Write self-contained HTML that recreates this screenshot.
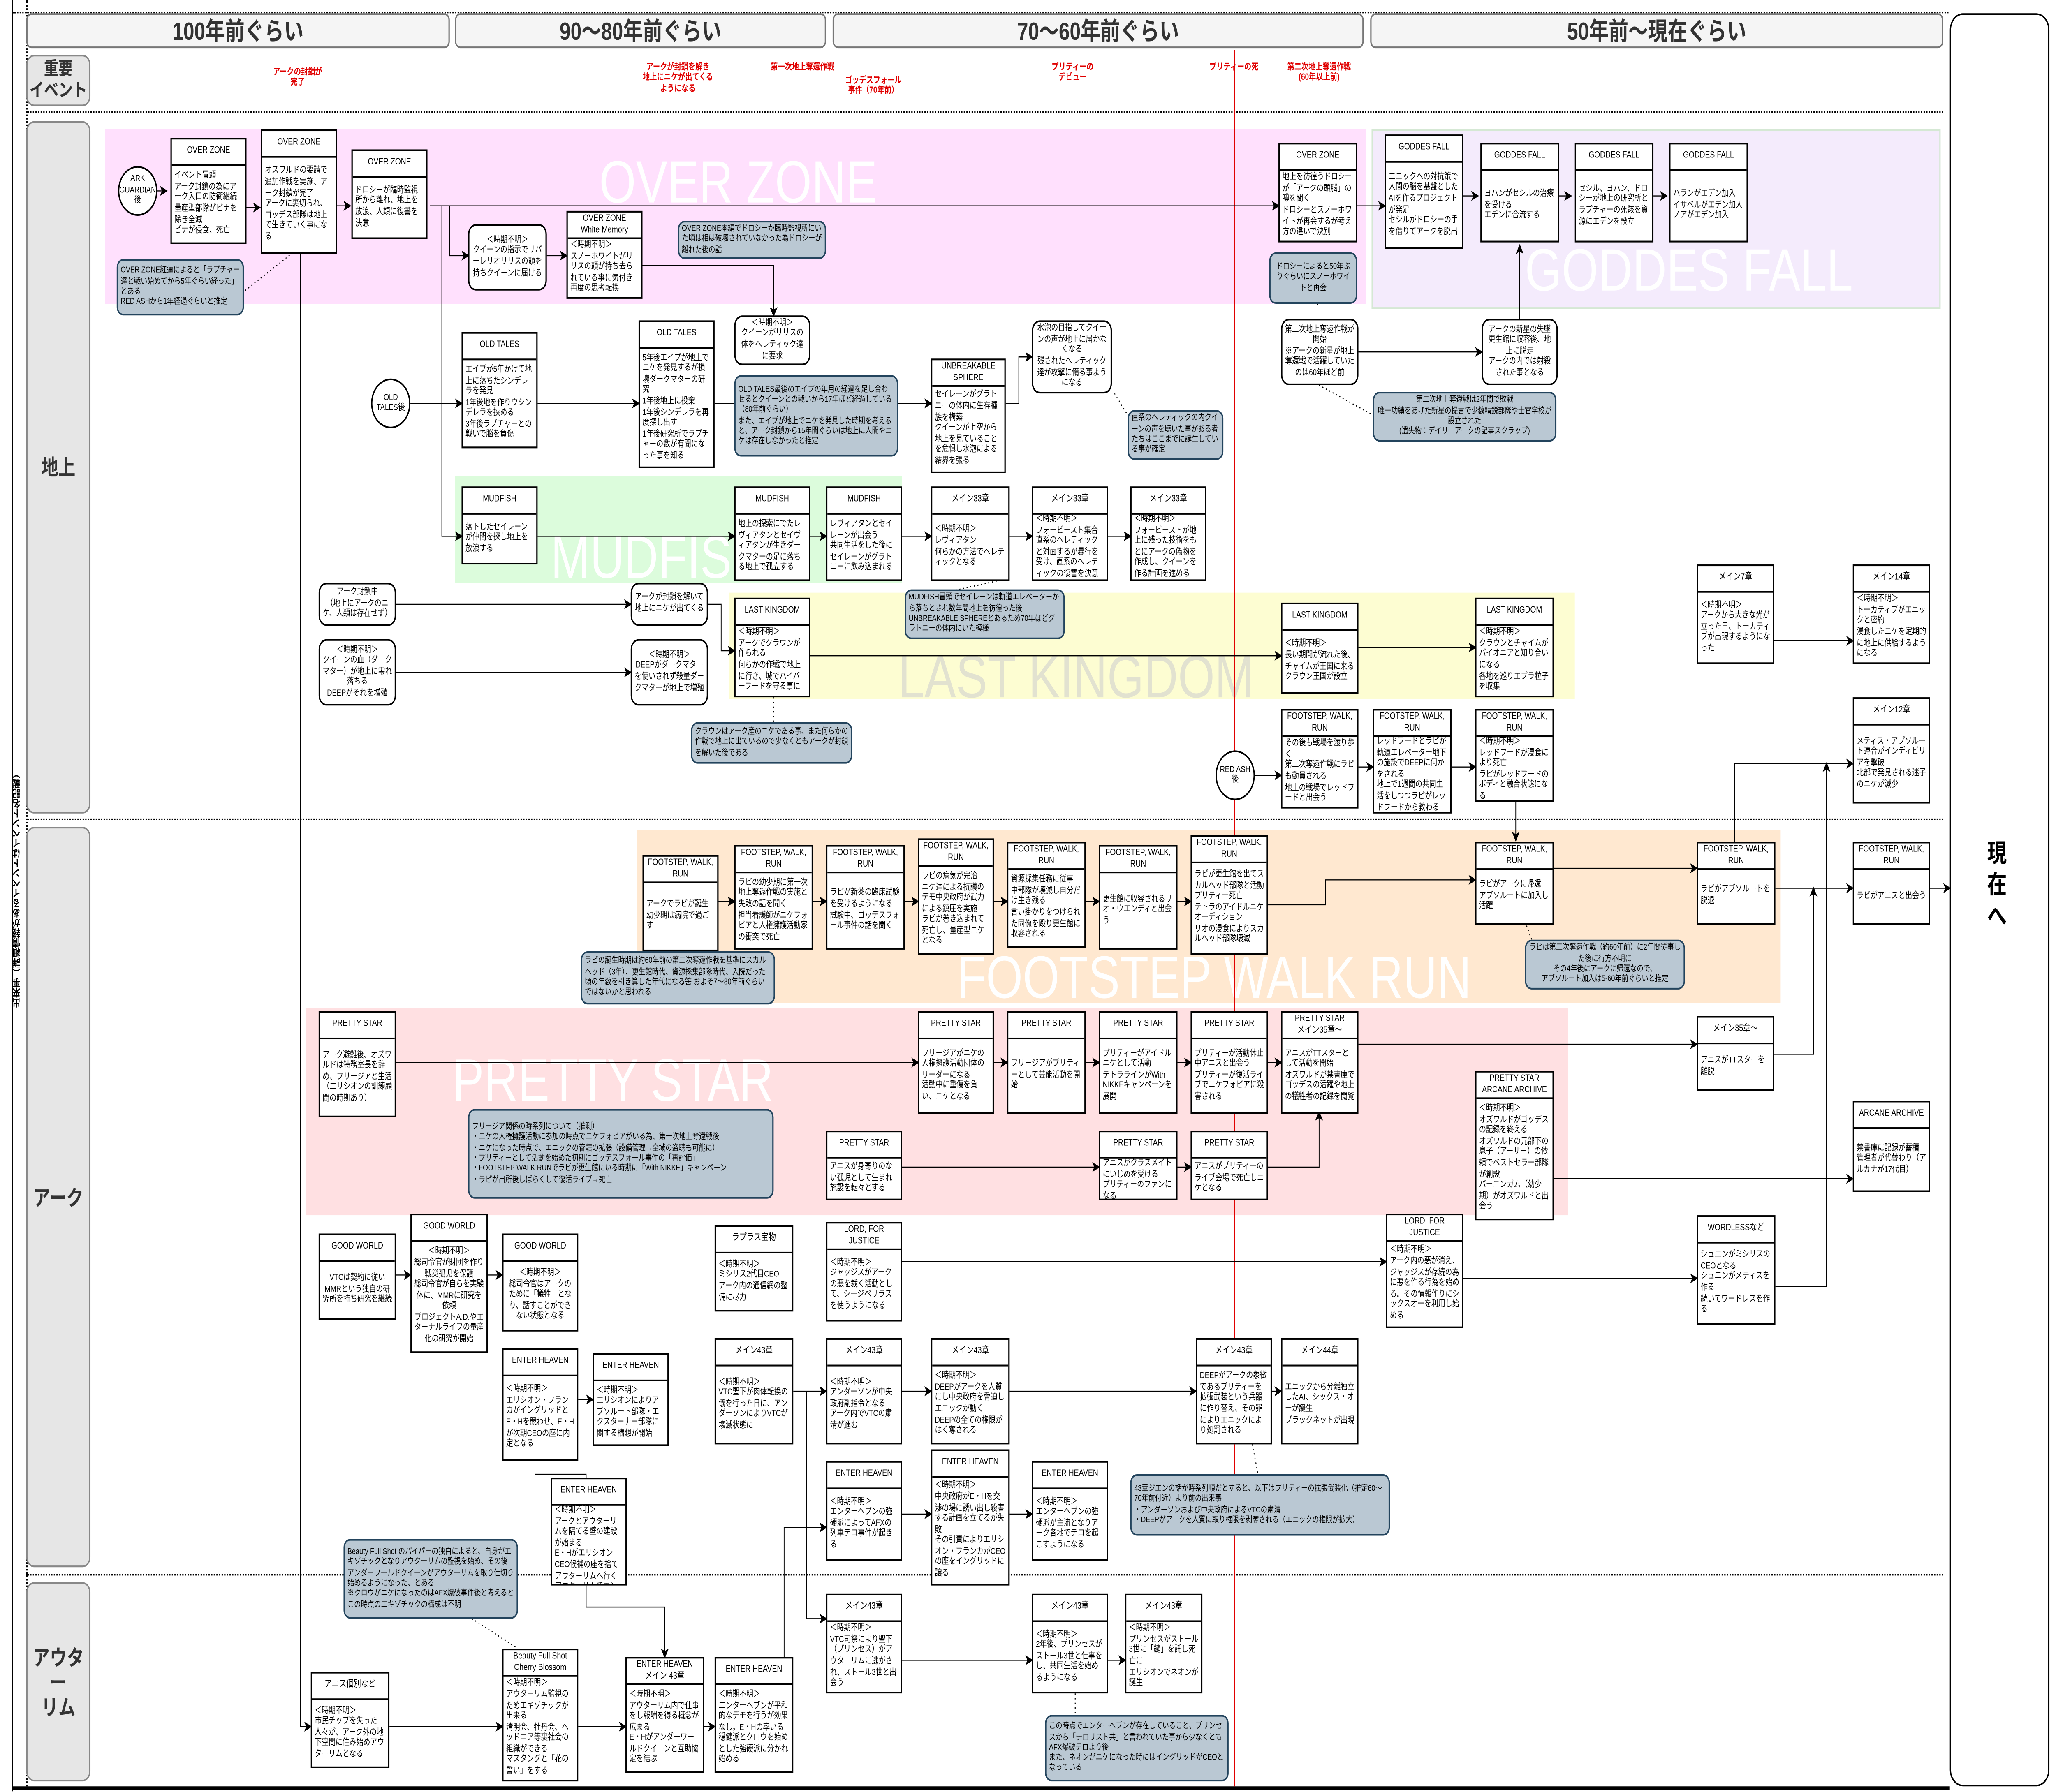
<!DOCTYPE html>
<html><head><meta charset="utf-8">
<style>
html,body{margin:0;padding:0;background:#fff;overflow:hidden;}
body{width:100vw;height:100vh;overflow:hidden;position:relative;}
#w{position:absolute;left:0;top:0;width:1568px;height:1079px;overflow:hidden;transform:scale(4.0383);transform-origin:0 0;font-family:"Liberation Sans","Noto Sans CJK JP",sans-serif;color:#000;}
.a{position:absolute;box-sizing:border-box;}
.hd{position:absolute;box-sizing:border-box;background:#f5f5f5;border:0.8px solid #777;border-radius:4px;font-weight:bold;font-size:15px;color:#333;display:flex;align-items:center;justify-content:center;}
.lb{position:absolute;box-sizing:border-box;background:#e6e6e6;border:0.8px solid #888;border-radius:6px;font-weight:bold;font-size:13px;color:#333;display:flex;align-items:center;justify-content:center;text-align:center;line-height:15px;}
.rg{position:absolute;}
.wm{position:absolute;color:#fff;font-size:36px;white-space:nowrap;line-height:36px;font-family:"Liberation Sans",sans-serif;}
.n{position:absolute;box-sizing:border-box;background:#fff;border:0.7px solid #000;font-size:5.3px;line-height:6.6px;overflow:hidden;display:flex;flex-direction:column;}
.n .h{height:15px;flex:none;border-bottom:0.7px solid #000;display:flex;align-items:center;justify-content:center;text-align:center;font-size:5.6px;line-height:6.4px;}
.n .b{flex:1;display:flex;flex-direction:column;justify-content:center;padding:0 2px;}
.n .b.c{text-align:center;}
.r{position:absolute;box-sizing:border-box;background:#fff;border:0.7px solid #000;border-radius:6px;font-size:5.3px;line-height:6.6px;display:flex;align-items:center;justify-content:center;text-align:center;padding:1px 2px;overflow:hidden;}
.nt{position:absolute;box-sizing:border-box;background:#bac8d3;border:0.7px solid #23445d;border-radius:5px;font-size:5.1px;line-height:6.3px;display:flex;flex-direction:column;justify-content:center;padding:1px 2px;overflow:hidden;}
.e{position:absolute;box-sizing:border-box;background:#fff;border:0.7px solid #000;border-radius:50%;font-size:5.3px;line-height:6.4px;display:flex;align-items:center;justify-content:center;text-align:center;}
.rd{position:absolute;color:#e00000;font-weight:bold;font-size:5.4px;line-height:6.4px;text-align:center;white-space:nowrap;transform:translateX(-50%);}
</style></head><body><div id="w">

<div class="a" style="left:9px;top:0;width:1.2px;height:1079px;background:#000"></div>
<div class="a" style="left:9px;top:1076px;width:1478px;height:2px;background:#000"></div>
<div class="a" style="left:19.5px;top:0;width:0;height:1076px;border-left:0.8px dotted #000"></div>
<div class="a" style="left:10px;top:7px;width:1476px;border-top:0.8px dotted #000"></div>
<div class="a" style="left:20px;top:67px;width:1462px;border-top:1px dotted #000"></div>
<div class="a" style="left:20px;top:493px;width:1462px;border-top:1px dotted #000"></div>
<div class="a" style="left:20px;top:948px;width:1462px;border-top:1px dotted #000"></div>
<div class="a" style="left:1487px;top:8px;width:76px;height:1068px;border:0.8px solid #000;border-radius:10px;background:#fff;"></div>
<div class="a" style="left:1513px;top:505px;width:20px;font-size:15px;line-height:19px;font-weight:bold;text-align:center;">現<br>在<br>へ</div>
<div class="a" style="left:9px;top:370px;width:10px;height:330px;font-size:6px;line-height:8px;writing-mode:vertical-rl;transform:rotate(180deg);display:flex;align-items:center;justify-content:center;font-weight:bold;">出来事（詳細情報があるイベントはイベント名記載）</div>

<div class="hd" style="left:20px;top:8px;width:323px;height:21px;">100年前ぐらい</div>
<div class="hd" style="left:347px;top:8px;width:283px;height:21px;">90〜80年前ぐらい</div>
<div class="hd" style="left:635px;top:8px;width:405px;height:21px;">70〜60年前ぐらい</div>
<div class="hd" style="left:1045px;top:8px;width:437px;height:21px;">50年前〜現在ぐらい</div>

<div class="lb" style="left:20px;top:33px;width:49px;height:31px;font-size:11px;line-height:13px;">重要<br>イベント</div>
<div class="lb" style="left:20px;top:73px;width:49px;height:417px;">地上</div>
<div class="lb" style="left:20px;top:498px;width:49px;height:446px;">アーク</div>
<div class="lb" style="left:20px;top:953px;width:49px;height:120px;">アウター<br>リム</div>

<div class="rd" style="left:227px;top:41px;">アークの封鎖が<br>完了</div>
<div class="rd" style="left:517px;top:38px;">アークが封鎖を解き<br>地上にニケが出てくる<br>ようになる</div>
<div class="rd" style="left:612px;top:38px;">第一次地上奪還作戦</div>
<div class="rd" style="left:666px;top:46px;">ゴッデスフォール<br>事件（70年前）</div>
<div class="rd" style="left:818px;top:38px;">プリティーの<br>デビュー</div>
<div class="rd" style="left:941px;top:38px;">プリティーの死</div>
<div class="rd" style="left:1006px;top:38px;">第二次地上奪還作戦<br>(60年以上前)</div>

<div class="rg" style="left:80px;top:78px;width:962px;height:105px;background:#ffe0fd;"></div>
<div class="rg" style="left:1046px;top:78px;width:432px;height:106px;background:#f4ebfc;border:0.6px solid #d5e8d4;"></div>
<div class="rg" style="left:347px;top:287px;width:341px;height:64px;background:#dcfcdc;"></div>
<div class="rg" style="left:556px;top:357px;width:645px;height:64px;background:#fdfdd2;"></div>
<div class="rg" style="left:486px;top:500px;width:872px;height:104px;background:#ffe8d0;"></div>
<div class="rg" style="left:233px;top:607px;width:963px;height:125px;background:#ffe0e2;"></div>

<div class="wm" style="left:457px;top:92px;">OVER ZONE</div>
<div class="wm" style="left:1163px;top:145px;">GODDES FALL</div>
<div class="wm" style="left:420px;top:318px;">MUDFISH</div>
<div class="wm" style="left:685px;top:390px;color:#e2e2d0;">LAST KINGDOM</div>
<div class="wm" style="left:730px;top:571px;">FOOTSTEP WALK RUN</div>
<div class="wm" style="left:345px;top:633px;">PRETTY STAR</div>

<div class="a" style="left:941px;top:30px;width:0.6px;height:1046px;background:#e00000"></div>

<svg class="a" style="left:0;top:0" width="1568" height="1079" viewBox="0 0 1568 1079">
<defs><marker id="m" markerWidth="6" markerHeight="6" refX="5" refY="3" orient="auto" markerUnits="userSpaceOnUse"><path d="M0,0 L6,3 L0,6 L1.5,3 z" fill="#000"/></marker></defs>
<g fill="none" stroke="#000" stroke-width="0.6" marker-end="url(#m)">
<path d="M120,115 H127"/>
<path d="M188,125 H198"/>
<path d="M257,124 H267"/>
<path d="M328,124 H975"/>
<path d="M1035,124 H1056"/>
<path d="M1115,118 H1127"/>
<path d="M1188,118 H1198"/>
<path d="M1261,118 H1271"/>
<path d="M343,124 V154 H357"/>
<path d="M417,154 H432"/>
<path d="M490,160 H590 V190"/>
<path d="M229,153 V1040 H237"/>
<path d="M337,124 V323 H352"/>
<path d="M313,243 H352"/>
<path d="M410,243 H487"/>
<path d="M545,243 H710"/>
<path d="M767,243 H777 V215 H787"/>
<path d="M410,323 H560"/>
<path d="M618,323 H630"/>
<path d="M688,323 H710"/>
<path d="M770,323 H787"/>
<path d="M845,323 H862"/>
<path d="M302,364 H481"/>
<path d="M302,405 H481"/>
<path d="M540,364 H550 V392 H560"/>
<path d="M618,395 H977"/>
<path d="M1036,390 H1125"/>
<path d="M957,467 H977"/>
<path d="M1036,462 H1047"/>
<path d="M1107,462 H1125"/>
<path d="M1156,483 V506"/>
<path d="M1353,386 H1413"/>
<path d="M1036,212 H1130"/>
<path d="M1159,192 V148"/>
<path d="M548,543 H560"/>
<path d="M620,543 H630"/>
<path d="M690,543 H700"/>
<path d="M758,543 H768"/>
<path d="M828,543 H838"/>
<path d="M898,543 H908"/>
<path d="M966,545 H1011 V530 H1125"/>
<path d="M1185,523 H1294"/>
<path d="M1323,507 V460 H1413"/>
<path d="M1354,535 H1413"/>
<path d="M302,640 H700"/>
<path d="M758,640 H768"/>
<path d="M828,640 H838"/>
<path d="M898,640 H908"/>
<path d="M966,640 H977"/>
<path d="M1036,629 H1294"/>
<path d="M688,703 H838"/>
<path d="M898,703 H908"/>
<path d="M966,703 H1006 V670"/>
<path d="M1185,710 H1413"/>
<path d="M1353,635 H1383 V535"/>
<path d="M1354,775 H1393 V460"/>
<path d="M302,768 H313"/>
<path d="M372,768 H383"/>
<path d="M688,760 H1057"/>
<path d="M1116,770 H1294"/>
<path d="M440,843 H452"/>
<path d="M408,880 V888 H447 V895"/>
<path d="M605,838 H630"/>
<path d="M688,838 H710"/>
<path d="M770,838 H912"/>
<path d="M970,838 H977"/>
<path d="M615,838 V975 H630"/>
<path d="M688,912 H710"/>
<path d="M770,912 H787"/>
<path d="M297,1040 H383"/>
<path d="M440,1040 H477"/>
<path d="M537,1040 H545"/>
<path d="M447,955 V968 H507 V998"/>
<path d="M598,998 V920 H630"/>
<path d="M688,1000 H787"/>
<path d="M845,1000 H858"/>
<path d="M1470,535 H1487"/>
</g>
<g fill="none" stroke="#000" stroke-width="0.7" stroke-dasharray="0.8,2">
<path d="M187,175 L222,153"/>
<path d="M1005,180 V185"/>
<path d="M1006,232 L1047,250"/>
<path d="M850,237 L860,250"/>
<path d="M760,350 L720,357"/>
<path d="M590,420 L590,435"/>
<path d="M517,575 L517,585"/>
<path d="M1163,555 L1170,570"/>
<path d="M360,975 L395,993"/>
<path d="M955,870 L960,890"/>
<path d="M820,1020 L820,1033"/>
</g>
</svg>

<div class="e" style="left:90px;top:100px;width:30px;height:30px;">ARK<br>GUARDIAN<br>後</div>
<div class="n" style="left:130px;top:83px;width:58px;height:64px;"><div class="h">OVER ZONE</div><div class="b">イベント冒頭<br>アーク封鎖の為にアーク入口の防衛継続<br>量産型部隊がピナを除き全滅<br>ピナが侵食、死亡</div></div>
<div class="n" style="left:199px;top:78px;width:58px;height:75px;"><div class="h">OVER ZONE</div><div class="b">オスワルドの要請で追加作戦を実施、アーク封鎖が完了<br>アークに裏切られ、ゴッデス部隊は地上で生きていく事になる</div></div>
<div class="n" style="left:268px;top:90px;width:58px;height:54px;"><div class="h">OVER ZONE</div><div class="b">ドロシーが臨時監視所から離れ、地上を放浪、人類に復讐を決意</div></div>
<div class="nt" style="left:89px;top:156px;width:97px;height:34px;">OVER ZONE紅蓮によると「ラプチャー達と戦い始めてから5年ぐらい経った」とある<br>RED ASHから1年経過ぐらいと推定</div>
<div class="r" style="left:357px;top:135px;width:60px;height:40px;">＜時期不明＞<br>クイーンの指示でリバーレリオリリスの頭を持ちクイーンに届ける</div>
<div class="n" style="left:432px;top:127px;width:58px;height:53px;"><div class="h">OVER ZONE<br>White Memory</div><div class="b">＜時期不明＞<br>スノーホワイトがリリスの頭が持ち去られている事に気付き再度の思考転換</div></div>
<div class="nt" style="left:517px;top:133px;width:113px;height:23px;">OVER ZONE本編でドロシーが臨時監視所にいた頃は相は破壊されていなかった為ドロシーが離れた後の話</div>
<div class="r" style="left:560px;top:190px;width:58px;height:30px;">＜時期不明＞<br>クイーンがリリスの体をヘレティック達に要求</div>

<div class="n" style="left:975px;top:86px;width:60px;height:60px;"><div class="h">OVER ZONE</div><div class="b">地上を彷徨うドロシーが「アークの頭脳」の噂を聞く<br>ドロシーとスノーホワイトが再会するが考え方の違いで決別</div></div>
<div class="nt" style="left:968px;top:152px;width:67px;height:31px;text-align:center;">ドロシーによると50年ぶりぐらいにスノーホワイトと再会</div>
<div class="n" style="left:1056px;top:81px;width:60px;height:69px;"><div class="h">GODDES FALL</div><div class="b">エニックへの対抗策で人間の脳を基盤としたAIを作るプロジェクトが発足<br>セシルがドロシーの手を借りてアークを脱出</div></div>
<div class="n" style="left:1129px;top:86px;width:60px;height:60px;"><div class="h">GODDES FALL</div><div class="b">ヨハンがセシルの治療を受ける<br>エデンに合流する</div></div>
<div class="n" style="left:1201px;top:86px;width:60px;height:60px;"><div class="h">GODDES FALL</div><div class="b">セシル、ヨハン、ドロシーが地上の研究所とラプチャーの死骸を資源にエデンを設立</div></div>
<div class="n" style="left:1273px;top:86px;width:60px;height:60px;"><div class="h">GODDES FALL</div><div class="b">ハランがエデン加入<br>イサベルがエデン加入<br>ノアがエデン加入</div></div>
<div class="r" style="left:977px;top:192px;width:59px;height:40px;">第二次地上奪還作戦が開始<br>※アークの新星が地上奪還戦で活躍していたのは60年ほど前</div>
<div class="r" style="left:1130px;top:192px;width:58px;height:40px;">アークの新星の失墜<br>更生館に収容後、地上に脱走<br>アークの内では射殺された事となる</div>
<div class="nt" style="left:1047px;top:236px;width:140px;height:30px;text-align:center;">第二次地上奪還戦は2年間で敗戦<br>唯一功績をあげた新星の提言で少数精鋭部隊や士官学校が設立された<br>(遺失物：デイリーアークの記事スクラップ)</div>

<div class="e" style="left:283px;top:228px;width:30px;height:30px;">OLD<br>TALES後</div>
<div class="n" style="left:352px;top:200px;width:58px;height:70px;"><div class="h">OLD TALES</div><div class="b">エイプが5年かけて地上に落ちたシンデレラを発見<br>1年後地を作りウシンデレラを挟める<br>3年後ラプチャーとの戦いで脳を負傷</div></div>
<div class="n" style="left:487px;top:193px;width:58px;height:89px;"><div class="h">OLD TALES</div><div class="b">5年後エイプが地上でニケを発見するが損壊ダークマターの研究<br>1年後地上に投棄<br>1年後シンデレラを再度探し出す<br>1年後研究所でラプチャーの数が有聞になった事を知る</div></div>
<div class="nt" style="left:560px;top:226px;width:125px;height:49px;">OLD TALES最後のエイプの年月の経過を足し合わせるとクイーンとの戦いから17年ほど経過している（80年前ぐらい）<br>また、エイプが地上でニケを発見した時期を考えると、アーク封鎖から15年間ぐらいは地上に人間やニケは存在しなかったと推定</div>
<div class="n" style="left:710px;top:216px;width:57px;height:69px;"><div class="h">UNBREAKABLE<br>SPHERE</div><div class="b">セイレーンがグラトニーの体内に生存種族を構築<br>クイーンが上空から地上を見ていることを危惧し水泡による結界を張る</div></div>
<div class="r" style="left:787px;top:193px;width:61px;height:44px;">水泡の目指してクイーンの声が地上に届かなくなる<br>残されたヘレティック達が攻撃に備る事ようになる</div>
<div class="nt" style="left:860px;top:247px;width:73px;height:30px;">直系のヘレティックの内クイーンの声を聴いた事がある者たちはここまでに誕生している事が確定</div>

<div class="n" style="left:352px;top:293px;width:58px;height:47px;"><div class="h">MUDFISH</div><div class="b">落下したセイレーンが仲間を探し地上を放浪する</div></div>
<div class="n" style="left:560px;top:293px;width:58px;height:57px;"><div class="h">MUDFISH</div><div class="b">地上の探索にでたレヴィアタンとセイヴィアタンが生きダークマターの足に落ちる地上で孤立する</div></div>
<div class="n" style="left:630px;top:293px;width:58px;height:57px;"><div class="h">MUDFISH</div><div class="b">レヴィアタンとセイレーンが出会う<br>共同生活をした後にセイレーンがグラトニーに飲み込まれる</div></div>
<div class="n" style="left:710px;top:293px;width:60px;height:57px;"><div class="h">メイン33章</div><div class="b">＜時期不明＞<br>レヴィアタン<br>何らかの方法でヘレティックとなる</div></div>
<div class="n" style="left:787px;top:293px;width:58px;height:57px;"><div class="h">メイン33章</div><div class="b">＜時期不明＞<br>フォービースト集合<br>直系のヘレティックと対面するが暴行を受け、直系のヘレティックの復讐を決意</div></div>
<div class="n" style="left:862px;top:293px;width:58px;height:57px;"><div class="h">メイン33章</div><div class="b">＜時期不明＞<br>フォービーストが地上に残った技術をもとにアークの偽物を作成し、クイーンを作る計画を進める</div></div>
<div class="nt" style="left:690px;top:355px;width:122px;height:30px;">MUDFISH冒頭でセイレーンは軌道エレベーターから落ちとされ数年間地上を彷徨った後<br>UNBREAKABLE SPHEREとあるため70年ほどグラトニーの体内にいた模様</div>

<div class="r" style="left:243px;top:351px;width:59px;height:26px;">アーク封鎖中<br>（地上にアークのニケ、人類は存在せず）</div>
<div class="r" style="left:243px;top:385px;width:59px;height:40px;">＜時期不明＞<br>クイーンの血（ダークマター）が地上に零れ落ちる<br>DEEPがそれを増殖</div>
<div class="r" style="left:481px;top:351px;width:59px;height:26px;">アークが封鎖を解いて地上にニケが出てくる</div>
<div class="r" style="left:481px;top:385px;width:59px;height:40px;">＜時期不明＞<br>DEEPがダークマターを使いされず殺量ダークマターが地上で増殖</div>
<div class="n" style="left:560px;top:360px;width:58px;height:60px;"><div class="h">LAST KINGDOM</div><div class="b">＜時期不明＞<br>アークでクラウンが作られる<br>何らかの作戦で地上に行き、城でハイバーフードを守る事に</div></div>
<div class="nt" style="left:527px;top:435px;width:123px;height:25px;">クラウンはアーク産のニケである事、また何らかの作戦で地上に出ているので少なくともアークが封鎖を解いた後である</div>
<div class="n" style="left:977px;top:363px;width:59px;height:55px;"><div class="h">LAST KINGDOM</div><div class="b">＜時期不明＞<br>長い期間が流れた後、チャイムが王国に来る<br>クラウン王国が設立</div></div>
<div class="n" style="left:1125px;top:360px;width:60px;height:60px;"><div class="h">LAST KINGDOM</div><div class="b">＜時期不明＞<br>クラウンとチャイムがパイオニアと知り合いになる<br>各地を巡りエブラ粒子を収集</div></div>
<div class="e" style="left:927px;top:452px;width:30px;height:30px;">RED ASH<br>後</div>
<div class="n" style="left:977px;top:427px;width:59px;height:60px;"><div class="h">FOOTSTEP, WALK,<br>RUN</div><div class="b">その後も戦場を渡り歩く<br>第二次奪還作戦にラピも動員される<br>地上の戦場でレッドフードと出会う</div></div>
<div class="n" style="left:1047px;top:427px;width:60px;height:63px;"><div class="h">FOOTSTEP, WALK,<br>RUN</div><div class="b">レッドフードとラピが軌道エレベーター地下の施設でDEEPに何かをされる<br>地上で1週間の共同生活をしつつラピがレッドフードから教わる</div></div>
<div class="n" style="left:1125px;top:427px;width:60px;height:56px;"><div class="h">FOOTSTEP, WALK,<br>RUN</div><div class="b">＜時期不明＞<br>レッドフードが浸食により死亡<br>ラピがレッドフードのボディと融合状態になる</div></div>
<div class="n" style="left:1294px;top:340px;width:59px;height:60px;"><div class="h">メイン7章</div><div class="b">＜時期不明＞<br>アークから大きな光が立った日、トーカティブが出現するようになった</div></div>
<div class="n" style="left:1413px;top:340px;width:59px;height:60px;"><div class="h">メイン14章</div><div class="b">＜時期不明＞<br>トーカティブがエニックと密約<br>浸食したニケを定期的に地上に供給するようになる</div></div>
<div class="n" style="left:1413px;top:420px;width:59px;height:64px;"><div class="h">メイン12章</div><div class="b">メティス・アプソルート連合がインディビリアを撃破<br>北部で発見される迷子のニケが減少</div></div>

<div class="n" style="left:490px;top:515px;width:58px;height:58px;"><div class="h">FOOTSTEP, WALK,<br>RUN</div><div class="b">アークでラピが誕生<br>幼少期は病院で過ごす</div></div>
<div class="n" style="left:560px;top:509px;width:60px;height:63px;"><div class="h">FOOTSTEP, WALK,<br>RUN</div><div class="b">ラピの幼少期に第一次地上奪還作戦の実施と失敗の話を聞く<br>担当看護師がニケフォビアと人権擁護活動家の衝突で死亡</div></div>
<div class="n" style="left:630px;top:509px;width:60px;height:63px;"><div class="h">FOOTSTEP, WALK,<br>RUN</div><div class="b">ラピが新薬の臨床試験を受けるようになる<br>試験中、ゴッデスフォール事件の話を聞く</div></div>
<div class="n" style="left:700px;top:505px;width:58px;height:70px;"><div class="h">FOOTSTEP, WALK,<br>RUN</div><div class="b">ラピの病気が完治<br>ニケ達による抗議のデモ中央政府が武力による鎮圧を実施<br>ラピが巻き込まれて死亡し、量産型ニケとなる</div></div>
<div class="n" style="left:768px;top:507px;width:60px;height:64px;"><div class="h">FOOTSTEP, WALK,<br>RUN</div><div class="b">資源採集任務に従事<br>中部隊が壊滅し自分だけ生き残る<br>言い掛かりをつけられた同僚を殴り更生館に収容される</div></div>
<div class="n" style="left:838px;top:509px;width:60px;height:63px;"><div class="h">FOOTSTEP, WALK,<br>RUN</div><div class="b">更生館に収容されるリオ・ウエンディと出会う</div></div>
<div class="n" style="left:908px;top:503px;width:59px;height:72px;"><div class="h">FOOTSTEP, WALK,<br>RUN</div><div class="b">ラピが更生館を出てスカルヘッド部隊と活動<br>プリティー死亡<br>テトラのアイドルニケオーディション<br>リオの浸食によりスカルヘッド部隊壊滅</div></div>
<div class="nt" style="left:443px;top:573px;width:148px;height:32px;">ラピの誕生時期は約60年前の第二次奪還作戦を基準にスカルヘッド（3年）、更生館時代、資源採集部隊時代、入院だった頃の年数を引き算した年代になる筈 およそ7〜80年前ぐらいではないかと思われる</div>
<div class="n" style="left:1125px;top:507px;width:60px;height:50px;"><div class="h">FOOTSTEP, WALK,<br>RUN</div><div class="b">ラピがアークに帰還<br>アブソルートに加入し活躍</div></div>
<div class="nt" style="left:1163px;top:566px;width:122px;height:30px;text-align:center;">ラピは第二次奪還作戦（約60年前）に2年間従事した後に行方不明に<br>その4年後にアークに帰還なので、<br>アブソルート加入は5-60年前ぐらいと推定</div>
<div class="n" style="left:1294px;top:507px;width:60px;height:50px;"><div class="h">FOOTSTEP, WALK,<br>RUN</div><div class="b">ラピがアブソルートを脱退</div></div>
<div class="n" style="left:1413px;top:507px;width:59px;height:50px;"><div class="h">FOOTSTEP, WALK,<br>RUN</div><div class="b">ラピがアニスと出会う</div></div>

<div class="n" style="left:243px;top:609px;width:59px;height:64px;"><div class="h">PRETTY STAR</div><div class="b">アーク避難後、オズワルドは特務室長を辞め、フリージアと生活（エリシオンの訓練顧問の時期あり）</div></div>
<div class="nt" style="left:357px;top:668px;width:233px;height:54px;">フリージア関係の時系列について（推測）<br>・ニケの人権擁護活動に参加の時点でニケフォビアがいる為、第一次地上奪還戦後<br>・ニケになった時点で、エニックの管轄の拡張（設備管理→全域の盗聴も可能に）<br>・プリティーとして活動を始めた初期にゴッデスフォール事件の「再評価」<br>・FOOTSTEP WALK RUNでラピが更生館にいる時期に「With NIKKE」キャンペーン<br>・ラピが出所後しばらくして復活ライブ→死亡</div>
<div class="n" style="left:700px;top:609px;width:58px;height:62px;"><div class="h">PRETTY STAR</div><div class="b">フリージアがニケの人権擁護活動団体のリーダーになる<br>活動中に重傷を負い、ニケとなる</div></div>
<div class="n" style="left:768px;top:609px;width:60px;height:62px;"><div class="h">PRETTY STAR</div><div class="b">フリージアがプリティーとして芸能活動を開始</div></div>
<div class="n" style="left:838px;top:609px;width:60px;height:62px;"><div class="h">PRETTY STAR</div><div class="b">プリティーがアイドルニケとして活動<br>テトララインがWith NIKKEキャンペーンを展開</div></div>
<div class="n" style="left:908px;top:609px;width:59px;height:62px;"><div class="h">PRETTY STAR</div><div class="b">プリティーが活動休止中アニスと出会う<br>プリティーが復活ライブでニケフォビアに殺害される</div></div>
<div class="n" style="left:977px;top:609px;width:59px;height:62px;"><div class="h">PRETTY STAR<br>メイン35章〜</div><div class="b">アニスがTTスターとして活動を開始<br>オズワルドが禁書庫でゴッデスの活躍や地上の犠牲者の記録を閲覧</div></div>
<div class="n" style="left:630px;top:681px;width:58px;height:42px;"><div class="h">PRETTY STAR</div><div class="b">アニスが身寄りのない孤児として生まれ施設を転々とする</div></div>
<div class="n" style="left:838px;top:681px;width:60px;height:42px;"><div class="h">PRETTY STAR</div><div class="b">アニスがクラスメイトにいじめを受ける<br>プリティーのファンになる</div></div>
<div class="n" style="left:908px;top:681px;width:59px;height:42px;"><div class="h">PRETTY STAR</div><div class="b">アニスがプリティーのライブ会場で死亡しニケとなる</div></div>
<div class="n" style="left:1125px;top:645px;width:60px;height:90px;"><div class="h">PRETTY STAR<br>ARCANE ARCHIVE</div><div class="b">＜時期不明＞<br>オズワルドがゴッデスの記録を終える<br>オズワルドの元部下の息子（アーサー）の依頼でベストセラー部隊が創設<br>バーニンガム（幼少期）がオズワルドと出会う</div></div>
<div class="n" style="left:1294px;top:612px;width:59px;height:45px;"><div class="h">メイン35章〜</div><div class="b">アニスがTTスターを離脱</div></div>
<div class="n" style="left:1413px;top:663px;width:59px;height:55px;"><div class="h">ARCANE ARCHIVE</div><div class="b">禁書庫に記録が蓄積<br>管理者が代替わり（アルカナが17代目）</div></div>

<div class="n" style="left:243px;top:743px;width:59px;height:52px;"><div class="h">GOOD WORLD</div><div class="b c">VTCは契約に従いMMRという独自の研究所を持ち研究を継続</div></div>
<div class="n" style="left:313px;top:731px;width:59px;height:84px;"><div class="h">GOOD WORLD</div><div class="b c">＜時期不明＞<br>総司令官が財団を作り戦災孤児を保護<br>総司令官が自らを実験体に、MMRに研究を依頼<br>プロジェクトA.D.やエターナルライフの量産化の研究が開始</div></div>
<div class="n" style="left:383px;top:743px;width:58px;height:59px;"><div class="h">GOOD WORLD</div><div class="b c">＜時期不明＞<br>総司令官はアークのために「犠牲」となり、話すことができない状態となる</div></div>
<div class="n" style="left:545px;top:738px;width:60px;height:52px;"><div class="h">ラプラス宝物</div><div class="b">＜時期不明＞<br>ミシリス2代目CEO<br>アーク内の通信網の整備に尽力</div></div>
<div class="n" style="left:630px;top:736px;width:58px;height:60px;"><div class="h">LORD, FOR<br>JUSTICE</div><div class="b">＜時期不明＞<br>ジャッジスがアークの悪を裁く活動として、シージペリラスを使うようになる</div></div>
<div class="n" style="left:1057px;top:731px;width:59px;height:69px;"><div class="h">LORD, FOR<br>JUSTICE</div><div class="b">＜時期不明＞<br>アーク内の悪が消え、ジャッジスが存続の為に悪を作る行為を始める。その情報作りにシックスオーを利用し始める</div></div>
<div class="n" style="left:1294px;top:732px;width:60px;height:66px;"><div class="h">WORDLESSなど</div><div class="b">シュエンがミシリスのCEOとなる<br>シュエンがメティスを作る<br>続いてワードレスを作る</div></div>

<div class="n" style="left:383px;top:812px;width:58px;height:68px;"><div class="h">ENTER HEAVEN</div><div class="b">＜時期不明＞<br>エリシオン・フランカがイングリッドとE・Hを競わせ、E・Hが次期CEOの座に内定となる</div></div>
<div class="n" style="left:452px;top:815px;width:58px;height:56px;"><div class="h">ENTER HEAVEN</div><div class="b">＜時期不明＞<br>エリシオンによりアブソルート部隊・エクスターナー部隊に関する構想が開始</div></div>
<div class="n" style="left:545px;top:806px;width:60px;height:64px;"><div class="h">メイン43章</div><div class="b">＜時期不明＞<br>VTC聖下が肉体転換の儀を行った日に、アンダーソンによりVTCが壊滅状態に</div></div>
<div class="n" style="left:630px;top:806px;width:58px;height:64px;"><div class="h">メイン43章</div><div class="b">＜時期不明＞<br>アンダーソンが中央政府副指令となる<br>アーク内でVTCの粛清が進む</div></div>
<div class="n" style="left:710px;top:806px;width:60px;height:64px;"><div class="h">メイン43章</div><div class="b">＜時期不明＞<br>DEEPがアークを人質にし中央政府を脅迫しエニックが動く<br>DEEPの全ての権限がはく奪される</div></div>
<div class="n" style="left:912px;top:806px;width:58px;height:64px;"><div class="h">メイン43章</div><div class="b">DEEPがアークの象徴であるプリティーを拡張武装という兵器に作り替え、その罪によりエニックにより処罰される</div></div>
<div class="n" style="left:977px;top:806px;width:59px;height:64px;"><div class="h">メイン44章</div><div class="b">エニックから分離独立したAI、シックス・オーが誕生<br>ブラックネットが出現</div></div>
<div class="n" style="left:420px;top:890px;width:58px;height:65px;"><div class="h">ENTER HEAVEN</div><div class="b">＜時期不明＞<br>アークとアウターリムを隔てる壁の建設が始まる<br>E・HがエリシオンCEO候補の座を捨てアウターリムへ行く<br>アウターリムでエンターヘブンが出来る</div></div>
<div class="n" style="left:630px;top:880px;width:58px;height:60px;"><div class="h">ENTER HEAVEN</div><div class="b">＜時期不明＞<br>エンターヘブンの強硬派によってAFXの列車テロ事件が起きる</div></div>
<div class="n" style="left:710px;top:873px;width:60px;height:82px;"><div class="h">ENTER HEAVEN</div><div class="b">＜時期不明＞<br>中央政府がE・Hを交渉の場に誘い出し殺害する計画を立てるが失敗<br>その引責によりエリシオン・フランカがCEOの座をイングリッドに譲る</div></div>
<div class="n" style="left:787px;top:880px;width:58px;height:60px;"><div class="h">ENTER HEAVEN</div><div class="b">＜時期不明＞<br>エンターヘブンの強硬派が主流となりアーク各地でテロを起こすようになる</div></div>
<div class="nt" style="left:862px;top:888px;width:198px;height:37px;">43章ジエンの話が時系列順だとすると、以下はプリティーの拡張武装化（推定60〜70年前付近）より前の出来事<br>・アンダーソンおよび中央政府によるVTCの粛清<br>・DEEPがアークを人質に取り権限を剥奪される（エニックの権限が拡大）</div>
<div class="nt" style="left:262px;top:927px;width:133px;height:48px;">Beauty Full Shot のパイパーの独白によると、自身がエキゾチックとなりアウターリムの監視を始め、その後アンダーワールドクイーンがアウターリムを取り仕切り始めるようになった、とある<br>※クロウがニケになったのはAFX爆破事件後と考えるとこの時点のエキゾチックの構成は不明</div>

<div class="n" style="left:237px;top:1007px;width:60px;height:58px;"><div class="h">アニス個別など</div><div class="b">＜時期不明＞<br>市民チップを失った人々が、アーク外の地下空間に住み始めアウターリムとなる</div></div>
<div class="n" style="left:383px;top:993px;width:58px;height:80px;"><div class="h">Beauty Full Shot<br>Cherry Blossom</div><div class="b">＜時期不明＞<br>アウターリム監視のためエキゾチックが出来る<br>清明会、牡丹会、ヘッドニア等裏社会の組織ができる<br>マスタングと「花の誓い」をする</div></div>
<div class="n" style="left:477px;top:998px;width:60px;height:70px;"><div class="h">ENTER HEAVEN<br>メイン 43章</div><div class="b">＜時期不明＞<br>アウターリム内で仕事をし報酬を得る概念が広まる<br>E・Hがアンダーワールドクイーンと互助協定を結ぶ</div></div>
<div class="n" style="left:545px;top:998px;width:60px;height:70px;"><div class="h">ENTER HEAVEN</div><div class="b">＜時期不明＞<br>エンターヘブンが平和的なデモを行うが効果なし。E・Hの率いる穏健派とクロウを始めとした強硬派に分かれ始める</div></div>
<div class="n" style="left:630px;top:960px;width:58px;height:60px;"><div class="h">メイン43章</div><div class="b">＜時期不明＞<br>VTC司祭により聖下（プリンセス）がアウターリムに逃がされ、ストール3世と出会う</div></div>
<div class="n" style="left:787px;top:960px;width:58px;height:60px;"><div class="h">メイン43章</div><div class="b">＜時期不明＞<br>2年後、プリンセスがストール3世と仕事をし、共同生活を始めるようになる</div></div>
<div class="n" style="left:858px;top:960px;width:59px;height:60px;"><div class="h">メイン43章</div><div class="b">＜時期不明＞<br>プリンセスがストール3世に「鍵」を託し死亡に<br>エリシオンでネオンが誕生</div></div>
<div class="nt" style="left:797px;top:1033px;width:140px;height:40px;">この時点でエンターヘブンが存在していること、プリンセスから「テロリスト共」と言われていた事から少なくともAFX爆破テロより後<br>また、ネオンがニケになった時にはイングリッドがCEOとなっている</div>

</div>
<script>
(function(){
  var w=document.getElementById('w');
  var vw=document.documentElement.clientWidth||window.innerWidth||6332;
  var vh=document.documentElement.clientHeight||window.innerHeight||4359;
  var sx=vw/1568, sy=vh/1079.4;
  if(!(sx>0)) sx=4.0383;
  if(!(sy>0)) sy=4.0383;
  w.style.transform='scale('+sx+','+sy+')';
})();
</script>
</body></html>
